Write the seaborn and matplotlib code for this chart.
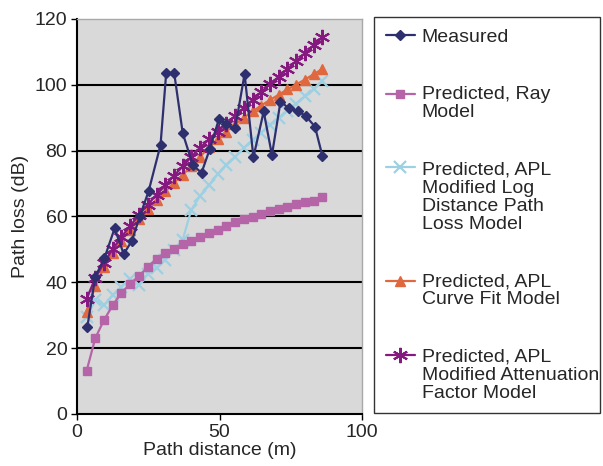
import numpy as np
import matplotlib
matplotlib.use("Agg")
import matplotlib.pyplot as plt
import seaborn as sns

# -----------------------------
# DATA
# -----------------------------
distance = [3.4, 6.4, 9.5, 12.6, 15.6, 18.7, 21.8, 24.8, 27.9, 31.0,
            34.0, 37.1, 40.1, 43.2, 46.3, 49.3, 52.4, 55.5, 58.5, 61.6,
            64.6, 67.7, 70.8, 73.8, 76.9, 80.0, 83.0, 86.1]

measured_x = [3.6, 6.4, 9.6, 13.2, 16.4, 19.3, 22.0, 25.1, 29.3, 31.3,
              34.1, 37.1, 40.7, 43.7, 46.6, 49.8, 52.4, 55.5, 58.8, 61.9,
              65.5, 68.4, 71.4, 74.3, 77.6, 80.2, 83.5, 86.1]
measured = [26.3, 41.7, 47.3, 56.4, 48.6, 52.7, 60.0, 67.6, 81.7, 103.6,
            103.6, 85.3, 75.5, 73.3, 80.5, 89.6, 88.0, 86.8, 103.3, 78.0,
            91.9, 78.7, 94.9, 92.9, 91.9, 90.6, 87.3, 78.4]

ray_model = [13.2, 23.0, 28.6, 33.1, 36.9, 39.5, 42.0, 44.6, 47.2, 49.0,
             50.0, 51.7, 52.5, 53.9, 55.1, 55.9, 57.1, 58.3, 59.3, 59.8,
             60.8, 61.8, 62.3, 62.8, 63.8, 64.3, 64.8, 65.9]

log_distance = [29.5, 34.5, 33.0, 36.2, 38.7, 41.0, 39.3, 42.4, 44.5, 46.8,
                49.8, 53.0, 62.0, 66.3, 69.5, 72.8, 75.6, 78.2, 80.8, 83.2,
                85.5, 87.8, 90.0, 92.2, 94.3, 96.5, 98.6, 101.2]

curve_fit = [31.1, 38.9, 44.7, 49.0, 52.7, 56.0, 59.2, 62.2, 65.0, 67.7,
             70.2, 72.7, 75.3, 78.2, 81.0, 83.4, 85.8, 88.1, 90.0, 91.9,
             93.7, 95.4, 97.0, 98.6, 100.1, 101.6, 103.2, 104.8]

atten_factor = [35.0, 41.3, 46.0, 50.2, 53.8, 57.2, 60.5, 63.6, 66.6, 69.5,
                72.4, 75.2, 78.1, 80.9, 83.4, 85.8, 88.2, 90.6, 93.0, 95.4,
                97.8, 100.2, 102.5, 104.8, 107.2, 109.6, 112.0, 114.4]

labels = ["Measured",
          "Predicted, Ray\nModel",
          "Predicted, APL\nModified Log\nDistance Path\nLoss Model",
          "Predicted, APL\nCurve Fit Model",
          "Predicted, APL\nModified Attenuation\nFactor Model"]

# -----------------------------
# STYLE
# -----------------------------
sns.set_style("white")
plt.rcParams['font.family'] = ['Liberation Sans', 'DejaVu Sans']
FS = 14

fig = plt.figure(figsize=(6.03, 4.66), dpi=100)
ax = fig.add_axes([77 / 603, 1 - 414 / 466, 285 / 603, 395 / 466])
ax.set_facecolor("#d9d9d9")

series = [
    (measured_x, measured, "#2e2f6e", "D", 5, 1.0, 5),
    (distance, ray_model, "#b565a7", "s", 5.5, 1.0, 3),
    (distance, log_distance, "#9dd0e2", "x", 9, 1.6, 2),
    (distance, curve_fit, "#e0683f", "^", 7, 1.0, 3),
    (distance, atten_factor, "#86197f", (6, 2, 0), 11, 1.5, 4),
]

for (xs, ys, col, mk, ms, mew, z), lab in zip(series, labels):
    sns.lineplot(x=xs, y=ys, ax=ax, color=col, marker=mk, markersize=ms,
                 markeredgewidth=mew, markeredgecolor=col,
                 markerfacecolor=col, linewidth=1.6, label=lab,
                 sort=False, zorder=z)

# -----------------------------
# AXES
# -----------------------------
ax.set_xlim(0, 100)
ax.set_ylim(0, 120)
ax.set_xticks([0, 50, 100])
ax.set_yticks([0, 20, 40, 60, 80, 100, 120])
ax.tick_params(labelsize=FS, length=4, width=1, color="black",
               direction="out", bottom=True, left=True, pad=3)
for yv in [20, 40, 60, 80, 100]:
    ax.axhline(yv, color="black", linewidth=1.5, zorder=1)
ax.set_xlabel("Path distance (m)", fontsize=FS, labelpad=1)
ax.set_ylabel("Path loss (dB)", fontsize=FS, labelpad=4)

for side in ["left", "bottom"]:
    ax.spines[side].set_color("black")
    ax.spines[side].set_linewidth(1.5)
for side in ["top", "right"]:
    ax.spines[side].set_color("#a8a8a8")
    ax.spines[side].set_linewidth(1.0)

# -----------------------------
# LEGEND (outside, right)
# -----------------------------
handles, labs = ax.get_legend_handles_labels()
ax.get_legend().remove()
leg = fig.legend(handles, labs, loc="upper left",
                 bbox_to_anchor=(374 / 603, 0.1094, 226 / 603, 1 - 17 / 466 - 0.1094),
                 mode="expand", fontsize=FS, frameon=True, fancybox=False,
                 edgecolor="#333333", framealpha=1, borderpad=0.6,
                 labelspacing=2.05, handlelength=1.5, handletextpad=0.35,
                 borderaxespad=0)
leg.get_frame().set_linewidth(1.0)
step = 14.2  # points between text lines
for t in leg.get_texts():
    t.set_linespacing(1.1)
for h, lab in zip(leg.legend_handles, labs):
    n = lab.count("\n")
    h.set_ydata(np.asarray(h.get_ydata()) + n * step / 2)

fig.savefig("out.png", dpi=100)
